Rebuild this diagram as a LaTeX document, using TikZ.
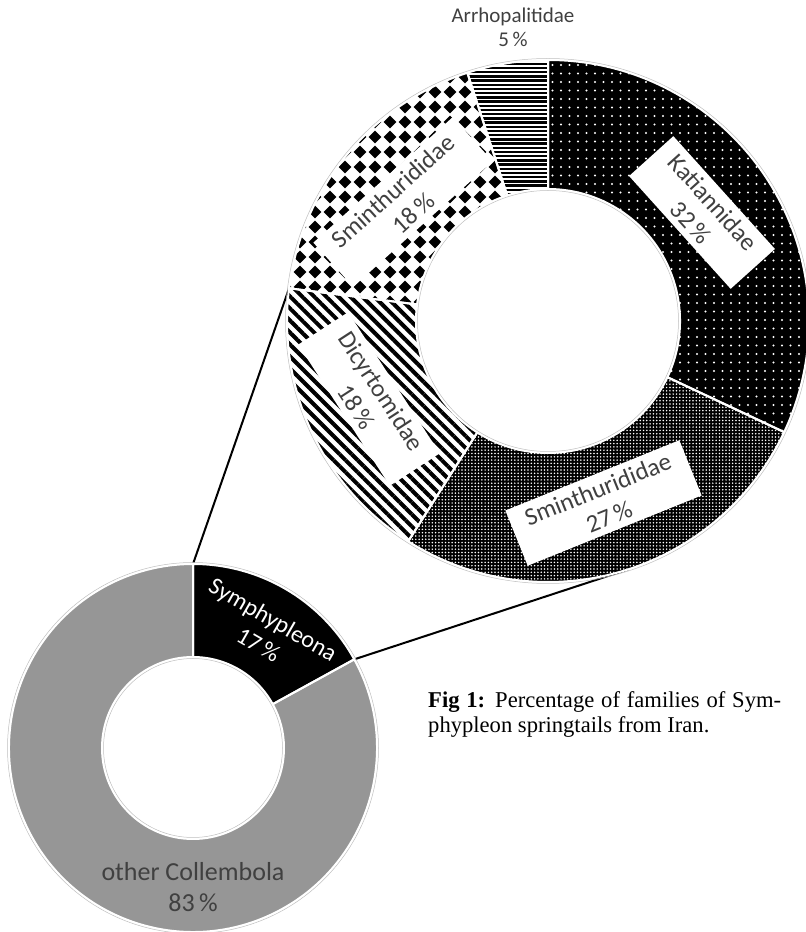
\documentclass[tikz,border=0pt]{standalone}
\usepackage{fontspec}
\setmainfont{Carlito}
\newfontfamily\capfont{Liberation Serif}
\usetikzlibrary{calc,patterns.meta}
\definecolor{labtxt}{HTML}{404040}
\definecolor{collgray}{HTML}{969696}
\pgfdeclarepattern{
  name=diamondgrid,
  type=uncolored,
  bottom left={\pgfpoint{-7.5pt}{-7.5pt}},
  top right={\pgfpoint{7.5pt}{7.5pt}},
  tile size={\pgfpoint{15pt}{15pt}},
  code={
    \pgfpathcircle{\pgfpointorigin}{3.6pt}
    \pgfusepath{fill}
    \pgfpathmoveto{\pgfpoint{0pt}{6.3pt}}
    \pgfpathlineto{\pgfpoint{6.3pt}{0pt}}
    \pgfpathlineto{\pgfpoint{0pt}{-6.3pt}}
    \pgfpathlineto{\pgfpoint{-6.3pt}{0pt}}
    \pgfpathclose
    \pgfusepath{fill}
  }
}
% ring sector: #1 centre, #2 start angle, #3 end angle, #4 outer radius, #5 inner radius, #6 options
\newcommand\ringsec[6]{%
  \path[#6] ($(#1)+(#2:#4pt)$) arc[start angle=#2, end angle=#3, radius=#4pt]
    -- ($(#1)+(#3:#5pt)$) arc[start angle=#3, end angle=#2, radius=#5pt] -- cycle;}
\tikzset{
  seplines/.style={draw=white, line width=2pt},
  boxlabel/.style={fill=white, text=labtxt, align=center, inner xsep=16pt, inner ysep=6pt,
    font=\fontsize{25}{30}\selectfont},
  connector/.style={draw=black, line width=2pt},
  rimline/.style={draw=black!25, line width=0.5pt},
  hstripe/.style={draw=black, line width=2.3pt}
}
\begin{document}
\begin{tikzpicture}[x=1pt,y=1pt]
\useasboundingbox (0,0) rectangle (806,932);
\coordinate (B) at (548,611);
\coordinate (S) at (193,184);
% connector end points
\coordinate (s1) at ($(S)+(90:184pt)$);
\coordinate (b1) at ($(B)+(172.8:261pt)$);
\coordinate (s2) at ($(S)+(28.8:184pt)$);
\coordinate (b2) at ($(B)+(-72:261pt)$);
\draw[connector] (s1) -- (b1);
\draw[connector] (s2) -- (b2);
% ---- big donut ----
% Katiannidae 32 %
\ringsec{B}{90}{-25.2}{261}{132}{fill=black}
\ringsec{B}{90}{-25.2}{261}{132}{pattern={Dots[distance=8.5pt,radius=1.1pt]},pattern color=white}
% Sminthurididae 27 %
\ringsec{B}{-25.2}{-122.4}{261}{132}{fill=black}
\ringsec{B}{-25.2}{-122.4}{261}{132}{pattern={Dots[distance=3.3pt,radius=0.85pt]},pattern color=white}
% Dicyrtomidae 18 %
\ringsec{B}{-122.4}{-187.2}{261}{132}{fill=white}
\ringsec{B}{-122.4}{-187.2}{261}{132}{pattern={Lines[angle=-45,distance=8.5pt,line width=4pt]},pattern color=black}
% Sminthurididae 18 %
\ringsec{B}{172.8}{108}{261}{132}{fill=white}
\ringsec{B}{172.8}{108}{261}{132}{pattern=diamondgrid,pattern color=black}
% Arrhopalitidae 5 %
\begin{scope}
  \ringsec{B}{108}{90}{261}{132}{clip}
  \foreach \yy in {738,742.2,...,876} {\draw[hstripe] (460,\yy) -- (560,\yy);}
\end{scope}
% separators
\ringsec{B}{90}{-25.2}{261}{132}{seplines}
\ringsec{B}{-25.2}{-122.4}{261}{132}{seplines}
\ringsec{B}{-122.4}{-187.2}{261}{132}{seplines}
\ringsec{B}{172.8}{108}{261}{132}{seplines}
\ringsec{B}{108}{90}{261}{132}{seplines}
\draw[rimline] (B) circle[radius=262.5pt];
\draw[rimline] (B) circle[radius=130.5pt];
% ---- small donut ----
\ringsec{S}{90}{28.8}{184}{91}{fill=black}
\ringsec{S}{28.8}{-270}{184}{91}{fill=collgray}
\ringsec{S}{90}{28.8}{184}{91}{seplines}
\ringsec{S}{28.8}{-270}{184}{91}{seplines}
\draw[rimline] (S) circle[radius=185.5pt];
\draw[rimline] (S) circle[radius=89.5pt];
% ---- labels ----
\node[boxlabel, rotate=-48] (lkat) at (702,719.5) {Katiannidae\\32\,\%};
\node[boxlabel, rotate=22] (lsm27) at (603.5,429) {Sminthurididae\\27\,\%};
\node[boxlabel, rotate=-57] (ldic) at (369,533) {Dicyrtomidae\\18\,\%};
\node[boxlabel, rotate=42] (lsm18) at (403,730) {Sminthurididae\\18\,\%};
\node[text=labtxt, align=center, font=\fontsize{21}{24}\selectfont] (larr) at (513,905) {Arrhopalitidae\\5\,\%};
\node[text=white, align=center, rotate=-30, font=\fontsize{24}{29}\selectfont] (lsym) at (266,300) {Symphypleona\\17\,\%};
\node[text=labtxt, align=center, font=\fontsize{26}{31}\selectfont] (loth) at (193,44.5) {other Collembola\\83\,\%};
% caption
\node[anchor=north west, inner sep=0pt, align=left, text=black,
  font=\capfont\fontsize{22.6}{25}\selectfont] (cap) at (428,241)
  {\makebox[353pt][s]{\textbf{Fig 1:} Percentage of families of Sym-}\\phypleon springtails from Iran.};
\end{tikzpicture}
\end{document}
